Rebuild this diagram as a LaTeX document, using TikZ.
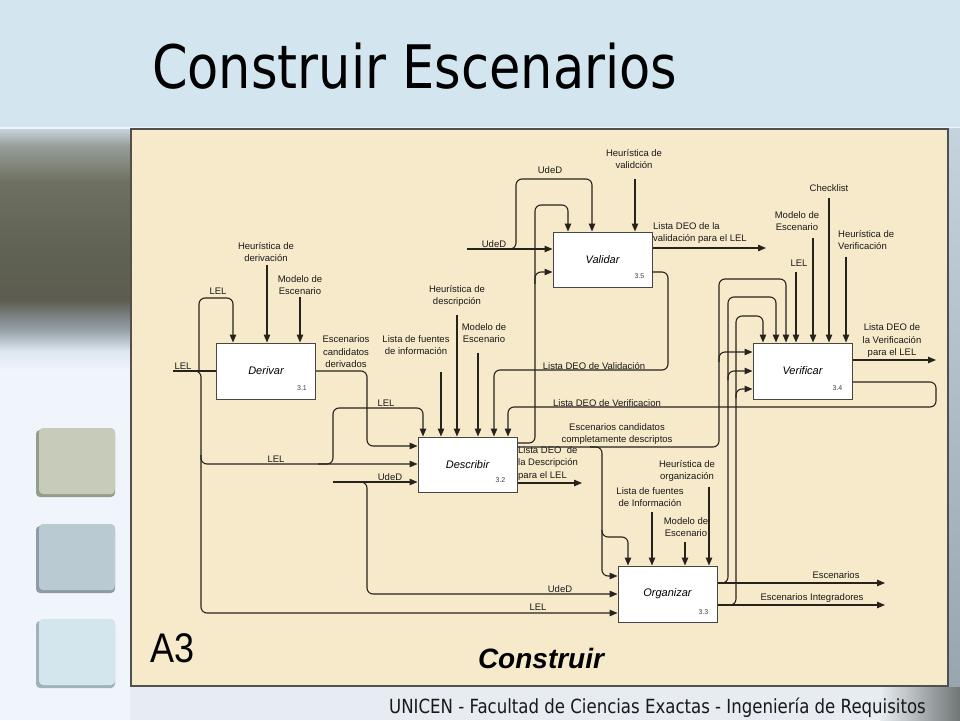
\documentclass[tikz,border=0pt]{standalone}
\usepackage{fontspec}
\setmainfont{Liberation Sans}
\newfontfamily\tahomaf{DejaVu Sans}
\usetikzlibrary{arrows.meta,calc}
\definecolor{bandblue}{RGB}{211,230,240}
\definecolor{paleback}{RGB}{240,244,251}
\definecolor{cream}{RGB}{246,234,203}
\definecolor{framec}{RGB}{80,80,80}
\definecolor{lc}{RGB}{38,34,30}
\definecolor{boxc}{RGB}{70,70,70}
\definecolor{sqA}{RGB}{199,204,186}
\definecolor{sqAd}{RGB}{150,156,140}
\definecolor{sqB}{RGB}{186,202,211}
\definecolor{sqBd}{RGB}{140,155,165}
\definecolor{sqC}{RGB}{211,230,238}
\definecolor{sqCd}{RGB}{160,178,186}
\definecolor{lp0}{RGB}{196,211,220}
\definecolor{lp1}{RGB}{150,158,152}
\definecolor{lp2}{RGB}{110,113,97}
\definecolor{lp3}{RGB}{96,98,84}
\definecolor{lp4}{RGB}{92,93,80}
\definecolor{lp5}{RGB}{154,166,174}
\definecolor{lp6}{RGB}{221,229,238}
\definecolor{lp7}{RGB}{240,244,251}
\definecolor{footl}{RGB}{230,236,241}
\definecolor{footr}{RGB}{112,118,118}
\pgfdeclareverticalshading{lpshade}{100bp}{color(0bp)=(lp7); color(25bp)=(lp7); color(29bp)=(lp6); color(33bp)=(lp5); color(39.5bp)=(lp4); color(50bp)=(lp3); color(64bp)=(lp2); color(71.5bp)=(lp1); color(75bp)=(lp0); color(100bp)=(lp0)}
\tikzset{
  conn/.style={draw=lc, line width=1.1pt, rounded corners=6pt},
  arr/.style={conn, -{Triangle[length=8pt,width=6.5pt]}},
  lbl/.style={font=\fontsize{9.5}{12.5}\selectfont, inner sep=0pt, align=center, text=black!90},
  lbll/.style={lbl, align=left, anchor=west},
  proc/.style={draw=boxc, line width=1pt, fill=white, minimum width=99pt, minimum height=56pt, inner sep=0pt, font=\fontsize{11}{13}\selectfont\itshape},
  pnum/.style={font=\fontsize{7}{8}\selectfont, inner sep=0pt, text=black!75},
  sqbox/.style={rounded corners=4pt}
}
\begin{document}
\begin{tikzpicture}[x=1pt,y=-1pt]
\useasboundingbox (0,0) rectangle (960,720);
% backgrounds
\fill[paleback] (0,0) rectangle (960,720);
\fill[bandblue] (0,0) rectangle (960,127);
\fill[shading=lpshade] (0,129) rectangle (131,370);
\fill[footl] (130,686) rectangle (880,720);
\fill[left color=footl, right color=footr] (880,686) rectangle (960,720);
\fill[top color=lp0, bottom color=lp5] (948,128) rectangle (960,686);
% side squares
\fill[sqAd, sqbox] (36,430) rectangle (115,497);
\fill[sqA, sqbox] (39,428) rectangle (115,494);
\fill[sqBd, sqbox] (36,526) rectangle (115,593);
\fill[sqB, sqbox] (39,524) rectangle (115,590);
\fill[sqCd, sqbox] (36,621) rectangle (115,688);
\fill[sqC, sqbox] (39,619) rectangle (115,685);
% title and footer
\node[anchor=base west, inner sep=0pt, font=\tahomaf\fontsize{60}{60}\selectfont, xscale=0.85] (title) at (152,88) {Construir Escenarios};
\node[anchor=base west, inner sep=0pt, font=\tahomaf\fontsize{19.5}{20}\selectfont, xscale=0.85, text=black!90] (foot) at (389,713) {UNICEN - Facultad de Ciencias Exactas - Ingeniería de Requisitos};
% frame
\draw[draw=framec, line width=1.5pt, fill=cream] (131,129) rectangle (948,686);
\node[anchor=base west, inner sep=0pt, font=\fontsize{36}{36}\selectfont, yscale=1.15] (a3) at (150,662) {A3};
\node[anchor=base, inner sep=0pt, font=\fontsize{28}{28}\selectfont\bfseries\itshape] (cons) at (541,668) {Construir};
% boxes
\node[proc] (der) at (266,371) {Derivar};
\node[proc, minimum height=55pt] (des) at (467.5,464.5) {Describir};
\node[proc, minimum height=55pt] (val) at (602.5,259.5) {Validar};
\node[proc] (ver) at (802.5,371) {Verificar};
\node[proc] (org) at (667.5,594) {Organizar};
\node[pnum] (derN) at ($(der.south east)+(-14,-11)$) {3.1};
\node[pnum] (desN) at ($(des.south east)+(-17,-12)$) {3.2};
\node[pnum] (valN) at ($(val.south east)+(-13,-11)$) {3.5};
\node[pnum] (verN) at ($(ver.south east)+(-15,-11)$) {3.4};
\node[pnum] (orgN) at ($(org.south east)+(-14,-10)$) {3.3};
% labels
\node[lbl] (l1) at (266,252) {Heurística de\\derivación};
\node[lbl] (l2) at (300,285) {Modelo de\\Escenario};
\node[lbl] (l3) at (218,291) {LEL};
\node[lbl] (l4) at (183,366) {LEL};
\node[lbl] (l5) at (346,352) {Escenarios\\candidatos\\derivados};
\node[lbl] (l6) at (386,403) {LEL};
\node[lbl] (l7) at (276,459) {LEL};
\node[lbl] (l8) at (390,477) {UdeD};
\node[lbl] (l9) at (416,345) {Lista de fuentes\\de información};
\node[lbl] (l10) at (457,296) {Heurística de\\descripción};
\node[lbl] (l11) at (484,333) {Modelo de\\Escenario};
\node[lbl] (l12) at (594,366) {Lista DEO de Validación};
\node[lbl] (l13) at (607,403) {Lista DEO de Verificacion};
\node[lbl] (l14) at (617,434) {Escenarios candidatos\\completamente descriptos};
\node[lbll] (l15) at (518,463.5) {Lista DEO~ de\\la Descripción\\para el LEL};
\node[lbl] (l16) at (494,244) {UdeD};
\node[lbl] (l17) at (550,170) {UdeD};
\node[lbl] (l18) at (634,159) {Heurística de\\validción};
\node[lbll] (l19) at (653,233) {Lista DEO de la\\validación para el LEL};
\node[lbl] (l20) at (829,188) {Checklist};
\node[lbl] (l21) at (797,221) {Modelo de\\Escenario};
\node[lbl] (l22) at (799,263) {LEL};
\node[lbll] (l23) at (838,240) {Heurística de\\Verificación};
\node[lbl] (l24) at (892,341) {Lista DEO de\\la Verificación\\para el LEL};
\node[lbl] (l25) at (687,471) {Heurística de\\organización};
\node[lbl] (l26) at (650,497) {Lista de fuentes\\de Información};
\node[lbl] (l27) at (686,527) {Modelo de\\Escenario};
\node[lbl] (l28) at (836,575) {Escenarios};
\node[lbl] (l29) at (812,598) {Escenarios Integradores};
\node[lbl] (l30) at (560,589) {UdeD};
\node[lbl] (l31) at (538,607) {LEL};
% --- Derivar
\coordinate (hdS) at (267,265);
\draw[arr] (hdS) -- (hdS |- der.north);
\coordinate (mdS) at (300,297);
\draw[arr] (mdS) -- (mdS |- der.north);
\coordinate (lelIn) at (173,371);
\draw[conn] (lelIn) -- (der.west);
\draw[arr] (199,371) -- (199,298) -- (233,298) -- (233,0 |- der.north);
\draw[arr] (188,371) -- (201,371) -- (201,464) -- (des.west |- 0,464);
\draw[arr] (201,455) -- (201,613) -- (org.west |- 0,613);
\draw[arr] (318,464) -- (333,464) -- (333,408) -- (423,408) -- (423,0 |- des.north);
\draw[arr] (der.east) -- (367,371) -- (367,446) -- (des.west |- 0,446);
% --- UdeD into Describir / Organizar
\coordinate (udD) at (333,482);
\draw[arr] (udD) -- (des.west |- udD);
\draw[arr] (355,482) -- (367,482) -- (367,594) -- (org.west |- 0,594);
% --- Describir controls
\coordinate (lfS) at (441,372);
\draw[arr] (lfS) -- (lfS |- des.north);
\coordinate (hdeS) at (457,315);
\draw[arr] (hdeS) -- (hdeS |- des.north);
\coordinate (mdeS) at (478,353);
\draw[arr] (mdeS) -- (mdeS |- des.north);
\draw[arr] (val.east |- 0,272) -- (668,272) -- (668,370) -- (494,370) -- (494,0 |- des.north);
\draw[arr] (ver.east |- 0,382) -- (936,382) -- (936,407) -- (508,407) -- (508,0 |- des.north);
% --- Describir outputs
\draw[arr] (des.east |- 0,443) -- (535,443) -- (535,205) -- (568,205) -- (568,0 |- val.north);
\draw[arr] (535,284) -- (535,272) -- (val.west |- 0,272);
\draw[arr] (des.east |- 0,447) -- (602,447) -- (602,537) -- (628,537) -- (628,0 |- org.north);
\draw[arr] (602,530) -- (602,576) -- (org.west |- 0,576);
\draw[arr] (590,447) -- (719,447) -- (719,352) -- (ver.west |- 0,352);
\draw[arr] (719,362) -- (719,279) -- (786,279) -- (786,0 |- ver.north);
\coordinate (ldOut) at (582,483);
\draw[arr] (des.east |- ldOut) -- (ldOut);
% --- Validar
\coordinate (udV) at (467,249);
\draw[arr] (udV) -- (val.west |- udV);
\draw[arr] (505,249) -- (516,249) -- (516,179) -- (592,179) -- (592,0 |- val.north);
\coordinate (hvS) at (635,179);
\draw[arr] (hvS) -- (hvS |- val.north);
\coordinate (lvOut) at (766,248);
\draw[arr] (val.east |- lvOut) -- (lvOut);
% --- Verificar
\coordinate (vlS) at (796,272);
\draw[arr] (vlS) -- (vlS |- ver.north);
\coordinate (vmS) at (813,238);
\draw[arr] (vmS) -- (vmS |- ver.north);
\coordinate (vcS) at (829,198);
\draw[arr] (vcS) -- (vcS |- ver.north);
\coordinate (vhS) at (846,257);
\draw[arr] (vhS) -- (vhS |- ver.north);
\coordinate (lverOut) at (936,360);
\draw[arr] (ver.east |- lverOut) -- (lverOut);
% --- Organizar
\coordinate (ohS) at (709,487);
\draw[arr] (ohS) -- (ohS |- org.north);
\coordinate (olS) at (652,512);
\draw[arr] (olS) -- (olS |- org.north);
\coordinate (omS) at (685,542);
\draw[arr] (omS) -- (omS |- org.north);
\coordinate (escOut) at (885,583);
\draw[arr] (org.east |- escOut) -- (escOut);
\coordinate (eiOut) at (885,605);
\draw[arr] (org.east |- eiOut) -- (eiOut);
\draw[arr] (718,583) -- (728,583) -- (728,297) -- (776,297) -- (776,0 |- ver.north);
\draw[arr] (728,380) -- (728,371) -- (ver.west |- 0,371);
\draw[arr] (718,605) -- (736,605) -- (736,316) -- (763,316) -- (763,0 |- ver.north);
\draw[arr] (736,398) -- (736,389) -- (ver.west |- 0,389);
\end{tikzpicture}
\end{document}
